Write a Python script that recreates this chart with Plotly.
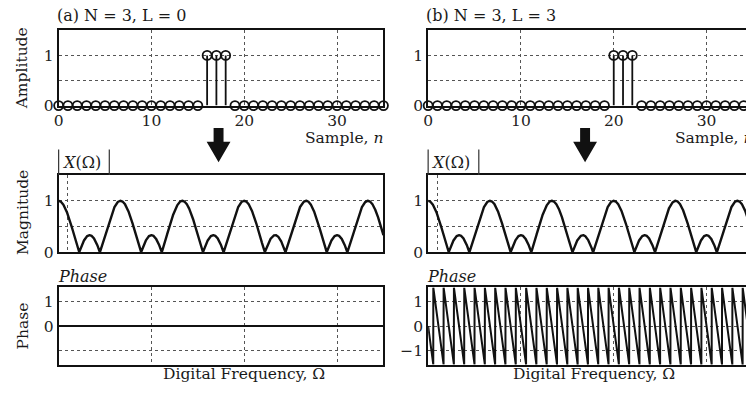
import numpy as np
import plotly.graph_objects as go

W, H = 746, 404
FONT = "DejaVu Serif"
INK = "#111111"

# ---- data -------------------------------------------------------------
samples = list(range(36))            # sample index n
pulse_a = [16, 17, 18]               # (a) N = 3, L = 0
pulse_b = [20, 21, 22]               # (b) N = 3, L = 3
pulse_taps = [-1, 0, 1]              # 3-point pulse about its centre
delay_a, delay_b = 0, 3
omega_max = 10.5 * np.pi             # frequency span of the spectrum panels
visible_b = 0.9786                   # part of panel (b) that fits the page


def px(x):
    return x / W


def py(y):
    return 1 - y / H


def spectrum(delay, omega):
    # DTFT of the 3-point pulse: X = e^{-j w L} * sum e^{-j w k}
    amp = sum(np.cos(omega * k) for k in pulse_taps)
    mag = np.abs(amp) / len(pulse_taps)
    ph = np.mod(-omega * delay + np.pi / 2, np.pi) - np.pi / 2
    return mag, ph


omega = np.linspace(0, omega_max, 8000)
mag_a, ph_a = spectrum(delay_a, omega)
mag_b, ph_b = spectrum(delay_b, omega)
if delay_a == 0:
    ph_a = np.zeros_like(omega)

fig = go.Figure()

# panel geometry (pixels)
cols = {"a": (54, 381), "b": (426, 426 + (381 - 54) * visible_b)}
rows = {"amp": (31, 108), "mag": (179, 258), "ph": (294, 373)}

axis_ids = {("a", "amp"): 1, ("a", "mag"): 2, ("a", "ph"): 3,
            ("b", "amp"): 4, ("b", "mag"): 5, ("b", "ph"): 6}

grid = dict(showgrid=True, gridcolor="#555555", griddash="dot", gridwidth=1,
            zeroline=False, showline=True, linecolor=INK, linewidth=2,
            ticks="", tickfont=dict(family=FONT, size=15.5, color="#222222"))

layout_axes = {}
for (col, row), i in axis_ids.items():
    x0, x1 = cols[col]
    y0, y1 = rows[row]
    xa = dict(grid, domain=[px(x0), min(px(x1), 1.0)], anchor=f"y{i}", mirror=True)
    ya = dict(grid, domain=[py(y1), py(y0)], anchor=f"x{i}",
              mirror=(col == "a"))
    frac = 1.0 if col == "a" else visible_b
    if row == "amp":
        xa.update(range=[0, 35 * frac], tickvals=[0, 10, 20, 30])
        ya.update(range=[0, 1.5], tickvals=[0, 0.5, 1], ticktext=["0", "", "1"])
    elif row == "mag":
        xa.update(range=[0, omega_max * frac], tickvals=[0.3 * np.pi],
                  showticklabels=False)
        ya.update(range=[0, 1.5], tickvals=[0, 0.5, 1], ticktext=["0", "", "1"])
    else:
        xa.update(range=[0, omega_max * frac],
                  tickvals=[3 * np.pi, 6 * np.pi, 9 * np.pi], showticklabels=False)
        ya.update(range=[-np.pi / 2, np.pi / 2], tickvals=[-1, 0, 1],
                  ticktext=(["", "0", "1"] if col == "a" else ["\u22121", "0", "1"]))
    layout_axes["xaxis" if i == 1 else f"xaxis{i}"] = xa
    layout_axes["yaxis" if i == 1 else f"yaxis{i}"] = ya


def ax(i):
    return ("x" if i == 1 else f"x{i}"), ("y" if i == 1 else f"y{i}")


for col, pulse, mag, ph in (("a", pulse_a, mag_a, ph_a), ("b", pulse_b, mag_b, ph_b)):
    amps = [1 if n in pulse else 0 for n in samples]
    xs, ys = [], []
    for n, a in zip(samples, amps):
        if a:
            xs += [n, n, None]
            ys += [0, a, None]
    xr, yr = ax(axis_ids[(col, "amp")])
    fig.add_trace(go.Scatter(x=xs, y=ys, mode="lines", xaxis=xr, yaxis=yr,
                             line=dict(color=INK, width=1.8), cliponaxis=False,
                             hoverinfo="skip"))
    fig.add_trace(go.Scatter(x=samples, y=amps, mode="markers", xaxis=xr, yaxis=yr,
                             marker=dict(symbol="circle-open", size=9, color=INK,
                                         line=dict(width=1.8, color=INK)),
                             cliponaxis=False))
    xr, yr = ax(axis_ids[(col, "mag")])
    fig.add_trace(go.Scatter(x=omega, y=mag, mode="lines", xaxis=xr, yaxis=yr,
                             line=dict(color=INK, width=2.4)))
    xr, yr = ax(axis_ids[(col, "ph")])
    fig.add_trace(go.Scatter(x=omega, y=ph, mode="lines", xaxis=xr, yaxis=yr,
                             line=dict(color=INK, width=2.0)))

ann = []


def text(x, y, s, size=15.5, xanchor="left", angle=0):
    ann.append(dict(x=px(x), y=py(y), xref="paper", yref="paper", text=s,
                    showarrow=False, xanchor=xanchor, yanchor="middle",
                    textangle=angle, font=dict(family=FONT, size=size, color="#1a1a1a")))


sp = "\u00a0"
text(50, 16, f"(a) N{sp}={sp}3, L{sp}={sp}0", size=16)
text(422, 16, f"(b) N{sp}={sp}3, L{sp}={sp}3", size=16)
text(18, 70, "Amplitude", xanchor="center", angle=-90)
text(18, 217, "Magnitude", xanchor="center", angle=-90)
text(18, 333, "Phase", xanchor="center", angle=-90)
for x0, x1 in (cols["a"], (426, 426 + 327)):
    text(x1 + 2, 141, "Sample, <i>n</i>", xanchor="right")
    text(x0 + 1, 166, "<i>X</i>(Ω)", size=16)
    text(x0 - 3, 283, "<i>Phase</i>", size=16)
text(241, 383, "Digital Frequency, Ω", xanchor="center")
text(593, 383, "Digital Frequency, Ω", xanchor="center")

shapes = []
for cx in (215, 584):
    path = (f"M {px(cx - 5)},{py(131)} L {px(cx + 5)},{py(131)} "
            f"L {px(cx + 5)},{py(145)} L {px(cx + 12)},{py(145)} "
            f"L {px(cx)},{py(166)} L {px(cx - 12)},{py(145)} "
            f"L {px(cx - 5)},{py(145)} Z")
    shapes.append(dict(type="path", path=path, xref="paper", yref="paper",
                       fillcolor=INK, line=dict(width=0)))
for bx in (54, 105, 426, 477):
    shapes.append(dict(type="line", xref="paper", yref="paper",
                       x0=px(bx), x1=px(bx), y0=py(153), y1=py(179),
                       line=dict(color="#333333", width=1.2)))

fig.update_layout(width=W, height=H, margin=dict(l=0, r=0, t=0, b=0),
                  paper_bgcolor="white", plot_bgcolor="white", showlegend=False,
                  annotations=ann, shapes=shapes, **layout_axes)

fig.write_html("out.html")
